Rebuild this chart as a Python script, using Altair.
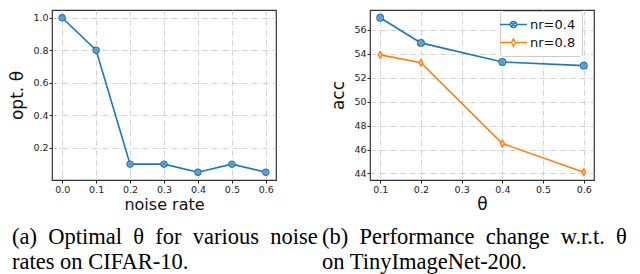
import altair as alt
import pandas as pd

# ---- data ----
noise_rates = [0.0, 0.1, 0.2, 0.3, 0.4, 0.5, 0.6]
opt_theta = [1.0, 0.8, 0.1, 0.1, 0.05, 0.1, 0.05]

thetas = [0.1, 0.2, 0.4, 0.6]
acc_nr04 = [57.0, 54.9, 53.3, 53.0]
acc_nr08 = [53.9, 53.25, 46.5, 44.1]
series_names = ["nr=0.4", "nr=0.8"]

x_ticks_left = [0.0, 0.1, 0.2, 0.3, 0.4, 0.5, 0.6]
y_ticks_left = [0.2, 0.4, 0.6, 0.8, 1.0]
x_ticks_right = [0.1, 0.2, 0.3, 0.4, 0.5, 0.6]
y_ticks_right = [44, 46, 48, 50, 52, 54, 56]

SP = "\u2002"  # wider space, mimics the justified first caption line
caption_a = [SP.join(["(a)", "Optimal", "θ", "for", "various", "noise"]), "rates on CIFAR-10."]
caption_b = [SP.join(["(b)", "Performance", "change", "w.r.t.", "θ"]), "on TinyImageNet-200."]

BLUE = "#1f77b4"
ORANGE = "#ff7f0e"
BLUE_FILL = "#7fb2dc"
ORANGE_FILL = "#ffbf86"

df_left = pd.DataFrame({"noise": noise_rates, "theta": opt_theta})
df_right = pd.DataFrame({
    "theta": thetas * 2,
    "acc": acc_nr04 + acc_nr08,
    "series": [series_names[0]] * len(thetas) + [series_names[1]] * len(thetas),
})

W, H = 224, 170
GAP = 94

grid_kw = dict(grid=True, gridColor="#c4c4c4", gridDash=[5, 2, 1, 2], gridWidth=0.8,
               labelFont="DejaVu Sans", labelFontSize=9.5, labelColor="#222",
               tickColor="#222", tickSize=3, labelPadding=1, domain=False,
               titleFont="DejaVu Sans", titleFontWeight="normal",
               titleColor="#111")

CROSS = "M-0.6,-0.6L0.6,0.6M-0.6,0.6L0.6,-0.6"
DIAMOND = "M0,-1L0.6,0L0,1L-0.6,0Z"

def caption(lines, dx):
    return alt.TitleParams(text=lines, orient="bottom", anchor="start", frame="group",
                           dx=dx, offset=13, font="Liberation Serif", fontSize=22.5,
                           fontWeight="normal", color="#000", lineHeight=25)

# ---- left panel ----
xl = alt.X("noise:Q", scale=alt.Scale(domain=[-0.03, 0.63], nice=False, zero=False),
           axis=alt.Axis(values=x_ticks_left, format=".1f", title="noise rate",
                         titlePadding=3, titleFontSize=16, **grid_kw))
yl = alt.Y("theta:Q", scale=alt.Scale(domain=[0.0025, 1.0475], nice=False, zero=False),
           axis=alt.Axis(values=y_ticks_left, format=".1f", title="opt. θ",
                         titlePadding=6, titleFontSize=17, **grid_kw))
base_l = alt.Chart(df_left).encode(x=xl, y=yl)
left = alt.layer(
    base_l.mark_line(color=BLUE, strokeWidth=1.6),
    base_l.mark_point(shape="circle", filled=True, fill=BLUE_FILL, stroke=BLUE,
                      strokeWidth=1.2, size=40, opacity=1),
    base_l.mark_point(shape=CROSS, filled=False, stroke=BLUE, strokeWidth=1, size=40),
).properties(width=W, height=H, title=caption(caption_a, -40))

# ---- right panel ----
xr = alt.X("theta:Q", scale=alt.Scale(domain=[0.075, 0.625], nice=False, zero=False),
           axis=alt.Axis(values=x_ticks_right, format=".1f", title="θ",
                         titlePadding=3, titleFontSize=17, **grid_kw))
yr = alt.Y("acc:Q", scale=alt.Scale(domain=[43.455, 57.645], nice=False, zero=False),
           axis=alt.Axis(values=y_ticks_right, format="d", title="acc",
                         titlePadding=6, titleFontSize=17, **grid_kw))
col_scale = alt.Scale(domain=series_names, range=[BLUE, ORANGE])
base_r = alt.Chart(df_right).encode(x=xr, y=yr)
s1 = base_r.transform_filter(alt.datum.series == series_names[0])
s2 = base_r.transform_filter(alt.datum.series == series_names[1])

LEG_O = ("M-2,0L-0.45,0M0.45,0L2,0M-0.45,0A0.45,0.45 0 1,0 0.45,0"
         "A0.45,0.45 0 1,0 -0.45,0M-0.3,-0.3L0.3,0.3M-0.3,0.3L0.3,-0.3")
LEG_D = "M-2,0L-0.3,0M0.3,0L2,0M0,-0.55L0.3,0L0,0.55L-0.3,0Z"
leg_shape = alt.Scale(domain=series_names, range=[LEG_O, LEG_D])

# legend is placed in the top-level group: offset by left panel width + gap
legend = alt.Legend(
    title=None, orient="none", legendX=W + GAP + W - 94, legendY=1, fillColor="white",
    strokeColor="#cccccc", cornerRadius=3, padding=6, rowPadding=3,
    symbolOpacity=1, symbolSize=180, symbolStrokeWidth=1.3,
    labelFont="DejaVu Sans", labelFontSize=13, labelColor="#111",
    labelOffset=9)

right = alt.layer(
    base_r.mark_line(strokeWidth=1.6).encode(
        color=alt.Color("series:N", scale=col_scale, legend=legend)),
    s1.mark_point(shape="circle", filled=True, fill=BLUE_FILL, stroke=BLUE,
                  strokeWidth=1.2, size=45, opacity=1),
    s1.mark_point(shape=CROSS, filled=False, stroke=BLUE, strokeWidth=1, size=40),
    s2.mark_point(shape=DIAMOND, filled=True, fill=ORANGE_FILL, stroke=ORANGE,
                  strokeWidth=1.2, size=50, opacity=1),
    alt.Chart(pd.DataFrame({"series": series_names})).mark_point(
        filled=False, opacity=0, size=10).encode(
        x=alt.value(0), y=alt.value(0),
        color=alt.Color("series:N", scale=col_scale, legend=legend),
        shape=alt.Shape("series:N", scale=leg_shape, legend=legend),
    ),
).properties(width=W, height=H, title=caption(caption_b, -48))

chart = alt.hconcat(left, right, spacing=GAP, bounds="flush").properties(
    padding=0
).configure_view(stroke="#333", strokeWidth=1.2)

chart.save("out.html", embed_options={"renderer": "svg", "actions": False})
